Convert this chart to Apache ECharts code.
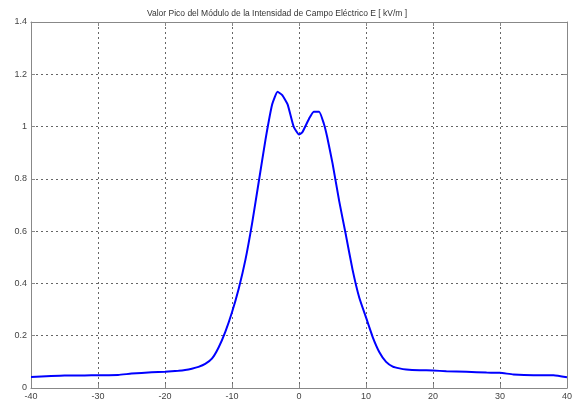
<!DOCTYPE html>
<html><head><meta charset="utf-8">
<script src="https://cdn.jsdelivr.net/npm/echarts@6/dist/echarts.min.js"></script>
<style>html,body{margin:0;padding:0;background:#fff}#c{width:575px;height:405px}</style>
</head><body><div id="c"></div>
<script>
const titleText = "Valor Pico del Módulo de la Intensidad de Campo Eléctrico E [ kV/m ]";
const xValues = [-40,-37,-35,-32,-30,-27,-25,-22,-20,-18,-17,-16,-15,-14,-13,-12,-11,-10,-9,-8,-7,-6,-5,-4,-3.2,-2.5,-1.7,-0.8,0,0.5,1.5,2.2,3,3.7,4.2,5,6,7,8,9,10,11,12,13,14,15,16,18,20,22,25,28,30,32,35,38,40];
const yValues = [0.042,0.046,0.048,0.048,0.049,0.050,0.055,0.060,0.062,0.066,0.069,0.074,0.081,0.092,0.112,0.155,0.215,0.290,0.380,0.490,0.630,0.790,0.950,1.085,1.133,1.120,1.085,1.000,0.970,0.978,1.030,1.057,1.057,1.012,0.961,0.860,0.715,0.585,0.452,0.345,0.270,0.195,0.137,0.100,0.082,0.075,0.071,0.068,0.067,0.064,0.062,0.059,0.058,0.052,0.049,0.049,0.041];
const xTicks = [-40,-30,-20,-10,0,10,20,30,40];
const yTicks = [0,0.2,0.4,0.6,0.8,1,1.2,1.4];

const chart = echarts.init(document.getElementById('c'), null, {renderer:'canvas'});
const lab = {fontFamily:'Liberation Sans, Arial', fontSize:9, color:'#444'};
const gridLine = {show:true, lineStyle:{color:'#666', type:[2,3], width:1}};
const axLine = {show:true, onZero:false, lineStyle:{color:'#888', width:1}};
const tick = {show:true, inside:true, length:4, lineStyle:{color:'#888'}};
chart.setOption({
  animation:false,
  title:{text:titleText, left:272, textAlign:'center', top:4, textStyle:{fontFamily:'Liberation Sans, Arial', fontSize:8.5, fontWeight:'normal', color:'#333'}},
  grid:{left:31, right:7, top:22, bottom:17},
  xAxis:[
    {type:'value', min:-40, max:40, interval:10, axisLine:axLine, axisTick:tick, splitLine:gridLine,
     axisLabel:Object.assign({margin:4}, lab)},
    {type:'value', position:'top', min:-40, max:40, interval:10, axisLine:axLine, axisTick:tick, splitLine:{show:false}, axisLabel:{show:false}}
  ],
  yAxis:[
    {type:'value', min:0, max:1.4, interval:0.2, axisLine:axLine, axisTick:tick, splitLine:gridLine,
     axisLabel:Object.assign({margin:4, formatter:v=>String(Math.round(v*10)/10)}, lab)},
    {type:'value', position:'right', min:0, max:1.4, interval:0.2, axisLine:axLine, axisTick:tick, splitLine:{show:false}, axisLabel:{show:false}}
  ],
  series:[{type:'line', xAxisIndex:0, yAxisIndex:0, showSymbol:false, smooth:0.15,
    data:xValues.map((x,i)=>[x,yValues[i]]), lineStyle:{color:'#0000ff', width:2}}]
});
</script></body></html>
